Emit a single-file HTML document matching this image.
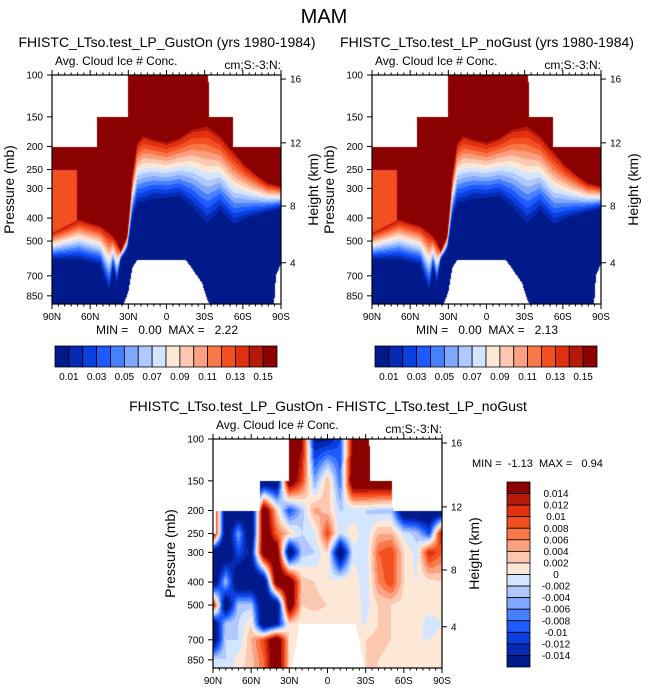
<!DOCTYPE html>
<html><head><meta charset="utf-8">
<style>
body{margin:0;background:#fff;width:648px;height:693px;overflow:hidden;position:relative;font-family:"Liberation Sans",Arial,sans-serif}
canvas{position:absolute}
svg{position:absolute;left:0;top:0}
text{white-space:pre}
</style></head>
<body>
<canvas id="c1" width="229" height="229" style="left:52px;top:75px"></canvas>
<canvas id="c2" width="229" height="229" style="left:372px;top:75px"></canvas>
<canvas id="c3" width="229" height="229" style="left:213px;top:439px"></canvas>
<svg id="s" width="648" height="693"></svg>
<script>
// ---- shared palette (low to high) ----
const palette = ["#001a8c","#0529b0","#0a40e0","#1e5aff","#4680ff","#80a8ff","#b0c8ff","#d4e6ff","#fde8d8","#fdc8b0","#fba080","#f87848","#f44f20","#e03010","#b81808","#8b0000"];
// ---- top panels: column profiles ----
const profLats = [90,69,52,45,42,39,36,31,27,23,18,10,0,-10,-20,-32,-42,-53,-63,-79,-90];
const redP     = [461,407,434,461,480,503,551,479,268,193,181,187,193,185,170,165,181,212,244,285,296];
const blueP    = [601,601,636,822,640,772,600,551,407,351,351,335,335,330,366,434,380,434,407,380,366];
const patchLats = [90,70,69.9,60];
const patchIdx  = [12,12,0,0];
const surfLats = [90,36,33,30,27,23,0,-15,-20,-28,-32,-38,-84,-86,-90];
const surfP    = [1000,1000,900,820,650,600,600,600,650,750,880,1000,1000,700,620];
const topLats = [90,55,54.9,30,29.9,-33,-33.1,-52,-52.1,-90];
const topP    = [200,200,150,150,100,100,150,150,200,200];
// ---- difference panel grid ----
const dLats = [90,80,70,60,50,40,30,20,10,0,-10,-20,-30,-40,-50,-60,-70,-80,-90];
const dPres = [100,150,200,250,300,400,500,600,700,850,950];
const dVals = [
 [-20,-20,-20,-20,-20,-20,20,15,-15,-15,-10,15,20,20,20,20,20,20,20],
 [-20,-20,-20,-20,-20,-20,20,10,-5,4,-8,20,20,20,20,20,20,20,20],
 [20,-20,-20,-20,20,3,-10,-3,5,3,-2,-2,-2,-3,-3,-20,-20,-20,-20],
 [20,-20,-5,-20,20,8,3,-2,-1,10,-2,2,-2,4,4,-1,-3,-10,15],
 [-20,-20,-10,-15,20,20,-20,-3,-2,2,-20,-1,-2,8,10,2,-1,12,8],
 [-20,-3,-20,-20,-20,20,20,3,2,0,2,2,-2,6,10,2,0,1,2],
 [15,-20,-3,-3,-20,-20,20,2,3,2,1,2,-1,2,2,1,0,1,1],
 [-20,-3,-2,2,-20,-15,2,0,0,0,0,0,0,2,2,1,1,-1,0],
 [-20,-2,-2,4,10,20,2,0,0,0,0,0,2,3,2,1,0,0,1],
 [-1,-2,1,3,8,20,2,0,0,0,0,0,2,2,1,2,1,1,1],
 [-1,-2,1,3,8,20,2,0,0,0,0,0,2,2,1,2,1,1,1]];
const dTopLats = [90,88,87.9,53,52.9,30,29.9,-33,-33.1,-51,-51.1,-90];
const dTopP    = [250,250,200,200,150,150,100,100,150,150,200,200];
const dSurfLats = [90,31,27,22,-22,-25,-28,-31,-90];
const dSurfP    = [1000,1000,850,600,600,700,850,1000,1000];
// ---- axis labels ----
const presTicks = [100,150,200,250,300,400,500,700,850];
const kmTicks = [4,8,12,16];
const kmTickP = [617,356,193,104];
const latTicks = [90,60,30,0,-30,-60,-90];
const cbTopLabels = ["0.01","0.03","0.05","0.07","0.09","0.11","0.13","0.15"];
const cbDiffLabels = ["0.014","0.012","0.01","0.008","0.006","0.004","0.002","0","-0.002","-0.004","-0.006","-0.008","-0.01","-0.012","-0.014"];

const PBOT=920, W=229, H=229;
function interp(xs,ys,x){
  if(x>=xs[0])return ys[0];
  for(let i=1;i<xs.length;i++){ if(x>=xs[i]){const t=(xs[i-1]-x)/(xs[i-1]-xs[i]);return ys[i-1]+(ys[i]-ys[i-1])*t;} }
  return ys[ys.length-1];
}
function pAt(row){return 100*Math.exp((row+0.5)/H*Math.log(PBOT/100));}
function latAt(col){return 90-(col+0.5)/W*180;}
function hex(c){return [parseInt(c.substr(1,2),16),parseInt(c.substr(3,2),16),parseInt(c.substr(5,2),16)];}
const rgb=palette.map(hex);
function drawTop(id){
  const ctx=document.getElementById(id).getContext('2d');const img=ctx.createImageData(W,H);
  for(let c=0;c<W;c++){const lat=latAt(c);
    const r=Math.log(interp(profLats,redP,lat)),b=Math.log(interp(profLats,blueP,lat));
    const s=interp(surfLats,surfP,lat),tp=interp(topLats,topP,lat),pi=Math.round(interp(patchLats,patchIdx,lat));
    for(let y=0;y<H;y++){const p=pAt(y);let col=[255,255,255];
      if(p>=tp&&p<=s){let idx;const lp=Math.log(p);
        if(lp<r){idx=(p>=250&&pi>=10)?pi:15;}
        else{const t=(lp-r)/Math.max(b-r,0.01);idx=Math.max(0,Math.min(14,Math.round(14*(1-t))));}
        col=rgb[idx];}
      const k=(y*W+c)*4;img.data[k]=col[0];img.data[k+1]=col[1];img.data[k+2]=col[2];img.data[k+3]=255;}}
  ctx.putImageData(img,0,0);
}
function drawDiff(){
  const ctx=document.getElementById('c3').getContext('2d');const img=ctx.createImageData(W,H);
  const lpres=dPres.map(p=>Math.log(p));
  for(let c=0;c<W;c++){const lat=latAt(c);
    let i=0;while(i<dLats.length-2&&lat<dLats[i+1])i++;const tx=(dLats[i]-lat)/(dLats[i]-dLats[i+1]);
    const s=interp(dSurfLats,dSurfP,lat),tp=interp(dTopLats,dTopP,lat);
    for(let y=0;y<H;y++){const p=pAt(y);let col=[255,255,255];
      if(p>=tp&&p<=s){const lp=Math.log(p);let j=0;while(j<lpres.length-2&&lp>lpres[j+1])j++;
        const ty=Math.max(0,Math.min(1,(lp-lpres[j])/(lpres[j+1]-lpres[j])));
        const v=(dVals[j][i]*(1-tx)+dVals[j][i+1]*tx)*(1-ty)+(dVals[j+1][i]*(1-tx)+dVals[j+1][i+1]*tx)*ty;
        col=rgb[Math.max(0,Math.min(15,Math.floor((v+16)/2)))];}
      const k=(y*W+c)*4;img.data[k]=col[0];img.data[k+1]=col[1];img.data[k+2]=col[2];img.data[k+3]=255;}}
  ctx.putImageData(img,0,0);
}
drawTop('c1');drawTop('c2');drawDiff();

const svg=document.getElementById('s');const NS="http://www.w3.org/2000/svg";
function el(tag,a,txt){const e=document.createElementNS(NS,tag);for(const k in a)e.setAttribute(k,a[k]);if(txt!==undefined)e.textContent=txt;svg.appendChild(e);return e;}
function txt(x,y,s,size,anchor,name,rot){const a={x:x,y:y,'font-size':size,'text-anchor':anchor||'start',fill:'#000','font-family':'Liberation Sans, Arial, sans-serif'};if(rot)a.transform='rotate(-90 '+x+' '+y+')';const e=el('text',a,s);

return e;}
function yOfP(oy,p){return oy+Math.log(p/100)/Math.log(PBOT/100)*H;}
function panel(ox,oy,pre){
  const f=el('rect',{x:ox,y:oy,width:W,height:H,fill:'none',stroke:'#000','stroke-width':1.2});
  
  
  presTicks.forEach(p=>{const y=yOfP(oy,p);
    el('line',{x1:ox-5,x2:ox,y1:y,y2:y,stroke:'#000'});
    txt(ox-9,y+3.5,String(p),10,'end',pre+'-pressure-tick-'+p);});
  kmTicks.forEach((k,i)=>{const y=yOfP(oy,kmTickP[i]);
    el('line',{x1:ox+W,x2:ox+W+5,y1:y,y2:y,stroke:'#000'});
    txt(ox+W+9,y+3.5,String(k),10,'start',pre+'-height-tick-'+k);});
  for(let l=90;l>=-90;l-=5){const x=ox+(90-l)/180*W;const maj=(l%30===0);
    el('line',{x1:x,x2:x,y1:oy+H,y2:oy+H+(maj?5:2.5),stroke:'#000'});
    el('line',{x1:x,x2:x,y1:oy,y2:oy-(maj?5:2.5),stroke:'#000'});}
  latTicks.forEach(l=>{const x=ox+(90-l)/180*W;const s=l>0?l+'N':(l<0?(-l)+'S':'0');
    txt(x,oy+H+16,s,10,'middle',pre+'-lat-tick-'+s);});
  txt(ox+3,oy-10,'Avg. Cloud Ice # Conc.',12,'start',pre+'-field-label');
  txt(ox+W,oy-6,'cm;S:-3:N:',12,'end',pre+'-units-label');
  txt(ox-38,oy+H/2,'Pressure (mb)',14,'middle',pre+'-y-axis-title',true);
  txt(ox+W+37,oy+H/2,'Height (km)',14,'middle',pre+'-right-axis-title',true);
}
function hbar(ox,oy,pre){
  const bw=222/16;
  palette.forEach((c,i)=>{const r=el('rect',{x:ox+i*bw,y:oy,width:bw,height:21,fill:c,stroke:'#000','stroke-width':0.8});
    
    });
  cbTopLabels.forEach((s,i)=>txt(ox+bw*(1+2*i),oy+34,s,10,'middle',pre+'-colorbar-label'));
}
txt(324,23,'MAM',20,'middle','main-title');
txt(167,47,'FHISTC_LTso.test_LP_GustOn (yrs 1980-1984)',14,'middle','left-panel-title');
txt(487,47,'FHISTC_LTso.test_LP_noGust (yrs 1980-1984)',14,'middle','right-panel-title');
panel(52,75,'gust-on');panel(372,75,'no-gust');panel(213,439,'difference');
txt(167,334,'MIN =   0.00  MAX =   2.22',12,'middle','gust-on-min-max');
txt(487,334,'MIN =   0.00  MAX =   2.13',12,'middle','no-gust-min-max');
hbar(55,346,'gust-on');hbar(375,346,'no-gust');
txt(328,411,'FHISTC_LTso.test_LP_GustOn - FHISTC_LTso.test_LP_noGust',14,'middle','difference-panel-title');
txt(472,467,'MIN =  -1.13  MAX =   0.94',11,'start','difference-min-max');
const vh=185/16;
palette.slice().reverse().forEach((c,i)=>{const r=el('rect',{x:507,y:482+i*vh,width:23,height:vh,fill:c,stroke:'#000','stroke-width':0.8});
  
  });
cbDiffLabels.forEach((s,i)=>txt(556,482+vh*(i+1)+3.5,s,10,'middle','difference-colorbar-label'));
</script>
</body></html>
